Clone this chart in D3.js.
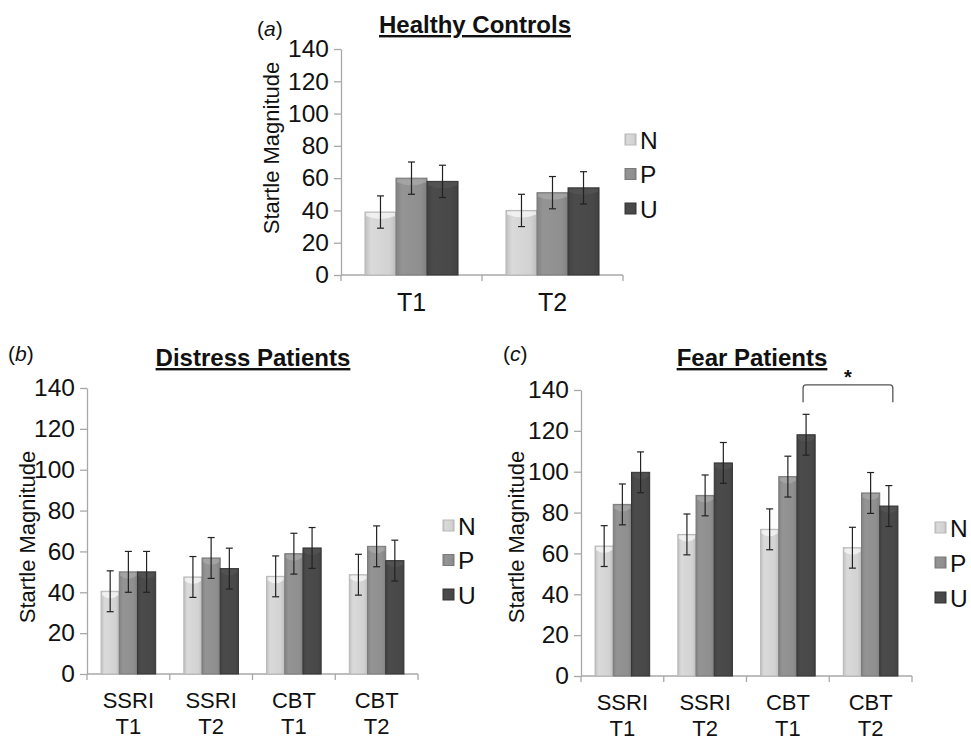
<!DOCTYPE html>
<html>
<head>
<meta charset="utf-8">
<script src="https://cdn.jsdelivr.net/npm/d3@7"></script>
<style>
  body { margin: 0; background: #fff; }
  svg { font-family: "Liberation Sans", Arial, sans-serif; }
</style>
</head>
<body>
<div id="chart"></div>
<script>
// series names
const series = ["N", "P", "U"];
const yTicks = [0, 20, 40, 60, 80, 100, 120, 140];

// (a) healthy controls
const healthyCats = ["T1", "T2"];
const healthyN = [39, 40];
const healthyP = [60, 51];
const healthyU = [58, 54];
const healthyErr = [10, 10];

// (b) distress patients
const patientCats = ["SSRI T1", "SSRI T2", "CBT T1", "CBT T2"];
const distressN = [40.5, 47.5, 47.8, 48.6];
const distressP = [50, 56.8, 58.9, 62.5];
const distressU = [50, 51.6, 61.7, 55.5];
const distressErr = [10, 10, 10, 10];

// (c) fear patients
const fearN = [63.6, 69.3, 71.8, 62.8];
const fearP = [84, 88.4, 97.6, 89.6];
const fearU = [99.7, 104.3, 118.1, 83.2];
const fearErr = [10, 10, 10, 10];

const width = 971, height = 742;
const svg = d3.select("#chart").append("svg")
    .attr("width", width)
    .attr("height", height);

const fills = {N: "#d2d2d2", P: "#8f8f8f", U: "#484848"};
const strokes = {N: "#b8b8b8", P: "#7a7a7a", U: "#353535"};

const defs = svg.append("defs");
series.forEach(s => {
    const c = d3.color(fills[s]);
    const g = defs.append("linearGradient").attr("id", "grad" + s)
        .attr("x1", "0").attr("x2", "1").attr("y1", "0").attr("y2", "0");
    g.append("stop").attr("offset", "0%").attr("stop-color", c.darker(0.25));
    g.append("stop").attr("offset", "20%").attr("stop-color", c.brighter(0.1));
    g.append("stop").attr("offset", "80%").attr("stop-color", c);
    g.append("stop").attr("offset", "100%").attr("stop-color", c.darker(0.3));
});

function drawPanel(cfg) {
    const rows = cfg.cats.map((c, i) => ({
        cat: c,
        vals: series.map((s, j) => ({s, v: cfg.values[j][i], e: cfg.err[i]}))
    }));

    const x0 = d3.scaleBand().domain(cfg.cats).range(cfg.xRange).padding(0);
    const bw = x0.bandwidth();
    const x1 = d3.scaleBand().domain(series).range([bw * 0.17, bw * 0.83]).padding(0);
    const y = d3.scaleLinear().domain([0, 140]).range(cfg.yRange);

    const g = svg.append("g");

    // y axis
    const yAxis = g.append("g")
        .attr("transform", `translate(${cfg.xRange[0]},0)`)
        .call(d3.axisLeft(y).tickValues(yTicks).tickSize(7).tickSizeOuter(0).tickPadding(5));
    yAxis.select(".domain").attr("stroke", "#a8a8a8").attr("stroke-width", 1.3);
    yAxis.selectAll(".tick line").attr("stroke", "#a8a8a8").attr("stroke-width", 1.3);
    yAxis.selectAll(".tick text").attr("font-size", 24.5).attr("fill", "#111")
        .attr("font-family", "Liberation Sans, Arial, sans-serif");

    // x axis line + band boundary ticks
    const y0 = y(0);
    g.append("line")
        .attr("x1", cfg.xRange[0]).attr("x2", cfg.xRange[1])
        .attr("y1", y0).attr("y2", y0)
        .attr("stroke", "#a8a8a8").attr("stroke-width", 1.3);
    const bounds = cfg.cats.map(c => x0(c)).concat([x0(cfg.cats[cfg.cats.length - 1]) + bw]);
    g.selectAll(".xtick").data(bounds).enter().append("line")
        .attr("x1", d => d).attr("x2", d => d)
        .attr("y1", y0).attr("y2", y0 + 6)
        .attr("stroke", "#a8a8a8").attr("stroke-width", 1.3);

    // x labels (two lines for the patient panels)
    const xl = g.selectAll(".xlabel").data(cfg.cats).enter().append("text")
        .attr("text-anchor", "middle")
        .attr("font-size", cfg.cats[0].includes(" ") ? 22 : 25)
        .attr("fill", "#111");
    xl.each(function(d) {
        const parts = d.split(" ");
        const t = d3.select(this);
        parts.forEach((p, i) => {
            t.append("tspan")
                .attr("x", x0(d) + bw / 2)
                .attr("y", y0 + (parts.length > 1 ? 34 : 36) + i * 25.6)
                .text(p);
        });
    });

    // bars
    const groups = g.selectAll(".grp").data(rows).enter().append("g")
        .attr("transform", d => `translate(${x0(d.cat)},0)`);
    groups.selectAll("rect").data(d => d.vals).enter().append("rect")
        .attr("x", d => x1(d.s))
        .attr("y", d => y(d.v))
        .attr("width", x1.bandwidth())
        .attr("height", d => y0 - y(d.v))
        .attr("fill", d => `url(#grad${d.s})`)
        .attr("stroke", d => strokes[d.s])
        .attr("stroke-width", 1);
    // top highlight
    groups.selectAll(".hl").data(d => d.vals).enter().append("path")
        .attr("d", d => {
            const xa = x1(d.s) + 1, xb = x1(d.s) + x1.bandwidth() - 1, yt = y(d.v) + 1;
            const mid = (xa + xb) / 2;
            return `M${xa},${yt}L${xb},${yt}L${xb},${yt + 3}Q${mid},${yt + 9} ${xa},${yt + 3}Z`;
        })
        .attr("fill", d => d3.color(fills[d.s]).brighter(0.5))
        .attr("opacity", 0.7);

    // error bars
    const eb = groups.selectAll(".err").data(d => d.vals).enter().append("g")
        .attr("stroke", "#222").attr("stroke-width", 1.2);
    eb.append("line")
        .attr("x1", d => x1(d.s) + x1.bandwidth() / 2)
        .attr("x2", d => x1(d.s) + x1.bandwidth() / 2)
        .attr("y1", d => y(d.v + d.e)).attr("y2", d => y(d.v - d.e));
    [1, -1].forEach(sign => {
        eb.append("line")
            .attr("x1", d => x1(d.s) + x1.bandwidth() / 2 - 3.5)
            .attr("x2", d => x1(d.s) + x1.bandwidth() / 2 + 3.5)
            .attr("y1", d => y(d.v + sign * d.e)).attr("y2", d => y(d.v + sign * d.e));
    });

    // y label
    g.append("text")
        .attr("transform", `translate(${cfg.yLabelX},${cfg.yLabelY}) rotate(-90)`)
        .attr("text-anchor", "middle")
        .attr("dominant-baseline", "central")
        .attr("font-size", 22)
        .attr("fill", "#111")
        .text("Startle Magnitude");

    // title
    g.append("text")
        .attr("x", cfg.titleX).attr("y", cfg.titleY)
        .attr("text-anchor", "middle")
        .attr("font-size", 24)
        .attr("font-weight", "bold")
        .attr("text-decoration", "underline")
        .attr("fill", "#111")
        .text(cfg.title);

    // panel letter
    const pl = g.append("text")
        .attr("x", cfg.letterX).attr("y", cfg.letterY)
        .attr("font-size", 21).attr("fill", "#111");
    pl.append("tspan").text("(");
    pl.append("tspan").attr("font-style", "italic").text(cfg.letter);
    pl.append("tspan").text(")");

    // legend
    const lg = g.selectAll(".leg").data(series).enter().append("g")
        .attr("transform", (d, i) => `translate(${cfg.legendX},${cfg.legendY + i * cfg.legendStep})`);
    lg.append("rect")
        .attr("x", 0).attr("y", -5).attr("width", 11).attr("height", 11)
        .attr("fill", d => `url(#grad${d})`)
        .attr("stroke", d => strokes[d]);
    lg.append("text")
        .attr("x", 15).attr("y", 1)
        .attr("dominant-baseline", "central")
        .attr("font-size", 24.5).attr("fill", "#111")
        .text(d => d);

    return {x0, x1, y, g};
}

drawPanel({
    cats: healthyCats, values: [healthyN, healthyP, healthyU], err: healthyErr,
    xRange: [341, 623], yRange: [275, 49],
    yLabelX: 271, yLabelY: 148,
    title: "Healthy Controls", titleX: 475, titleY: 33,
    letter: "a", letterX: 257, letterY: 36,
    legendX: 625, legendY: 139, legendStep: 34.5
});

drawPanel({
    cats: patientCats, values: [distressN, distressP, distressU], err: distressErr,
    xRange: [87, 418], yRange: [674, 388],
    yLabelX: 27, yLabelY: 537,
    title: "Distress Patients", titleX: 253, titleY: 366,
    letter: "b", letterX: 8, letterY: 361,
    legendX: 443, legendY: 525, legendStep: 34.5
});

const pc = drawPanel({
    cats: patientCats, values: [fearN, fearP, fearU], err: fearErr,
    xRange: [581, 912], yRange: [676, 390],
    yLabelX: 516, yLabelY: 537,
    title: "Fear Patients", titleX: 752, titleY: 366,
    letter: "c", letterX: 503, letterY: 361,
    legendX: 935, legendY: 527, legendStep: 35
});

// significance bracket between CBT T1 and CBT T2 (U)
const bx1 = pc.x0("CBT T1") + pc.x1("U") + pc.x1.bandwidth() / 2 - 3;
const bx2 = pc.x0("CBT T2") + pc.x1("U") + pc.x1.bandwidth() / 2 + 4;
const byTop = pc.y(142.5), byBot = pc.y(134);
pc.g.append("path")
    .attr("d", `M${bx1},${byBot}L${bx1},${byTop + 3}Q${bx1},${byTop} ${bx1 + 3},${byTop}L${bx2 - 3},${byTop}Q${bx2},${byTop} ${bx2},${byTop + 3}L${bx2},${byBot}`)
    .attr("fill", "none").attr("stroke", "#555").attr("stroke-width", 1.3);
pc.g.append("text")
    .attr("x", (bx1 + bx2) / 2).attr("y", byTop - 1)
    .attr("text-anchor", "middle")
    .attr("font-size", 20).attr("font-weight", "bold").attr("fill", "#111")
    .text("*");
</script>
</body>
</html>
